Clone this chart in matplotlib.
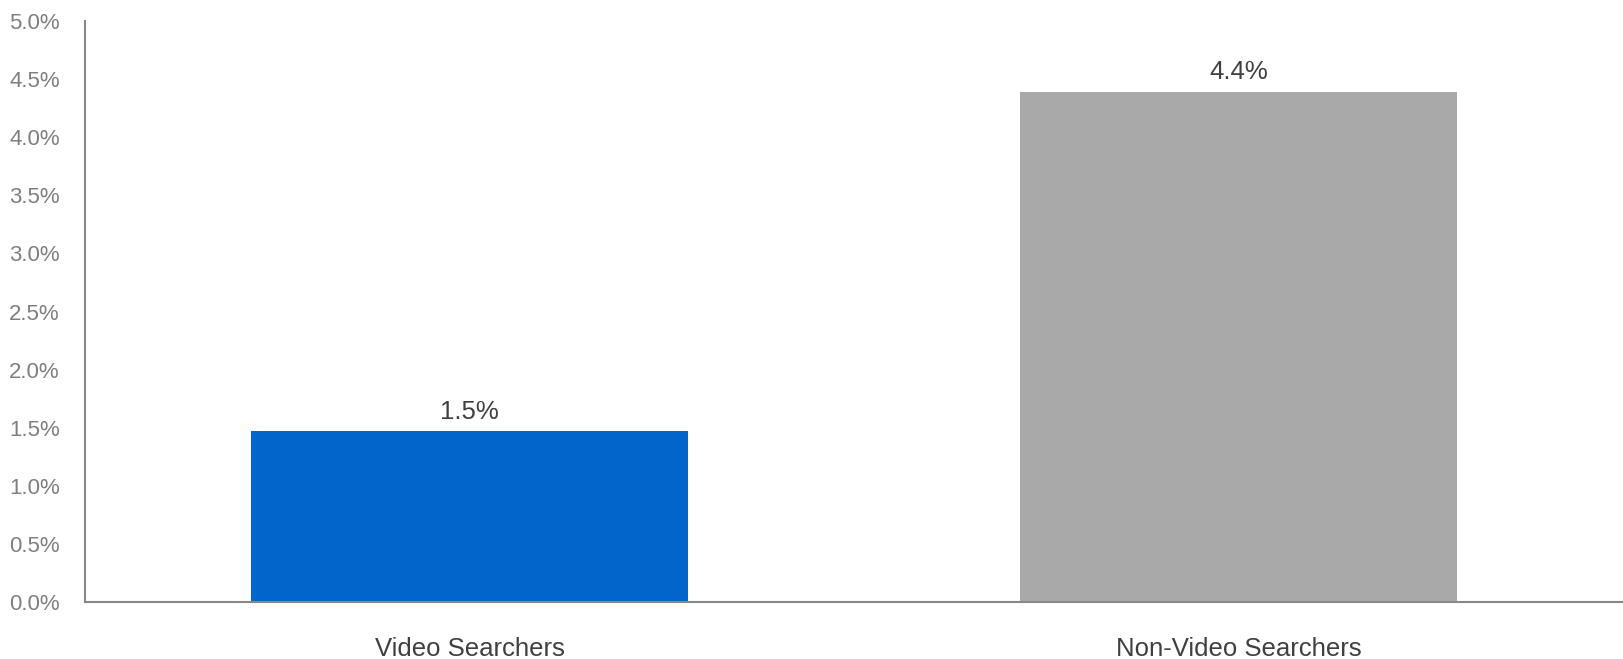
import numpy as np
import matplotlib.pyplot as plt
from matplotlib.ticker import FuncFormatter

categories = ["Video Searchers", "Non-Video Searchers"]
values = [1.47, 4.39]
value_labels = ["1.5%", "4.4%"]
colors = ["#0066CC", "#A9A9A9"]
y_ticks = np.arange(0, 5.01, 0.5)

plt.rcParams["font.family"] = ["Liberation Sans", "DejaVu Sans"]

fig = plt.figure(figsize=(16.23, 6.59), dpi=100)
ax = fig.add_axes([85 / 1623, 1 - 602 / 659, 1 - 85 / 1623, (602 - 21) / 659])

x = np.arange(len(categories))
bars = ax.bar(x, values, width=0.568, color=colors, linewidth=0)

for b, lab in zip(bars, value_labels):
    ax.annotate(lab, (b.get_x() + b.get_width() / 2, b.get_height()),
                xytext=(0, 5.5), textcoords="offset points",
                ha="center", va="bottom", fontsize=18.5, color="#404040")

ax.set_xlim(-0.5, 1.5)
ax.set_ylim(0, 5.0)
ax.set_yticks(y_ticks)
ax.yaxis.set_major_formatter(FuncFormatter(lambda v, p: f"{v:.1f}%"))
ax.set_xticks(x)
ax.set_xticklabels(categories)

ax.tick_params(axis="y", length=0, pad=18, labelsize=16, labelcolor="#7F7F7F")
ax.tick_params(axis="x", length=0, pad=25.5, labelsize=18.5, labelcolor="#404040")

for s in ["top", "right"]:
    ax.spines[s].set_visible(False)
for s in ["left", "bottom"]:
    ax.spines[s].set_color("#888888")
    ax.spines[s].set_linewidth(1.5)

fig.savefig("out.png", dpi=100)
